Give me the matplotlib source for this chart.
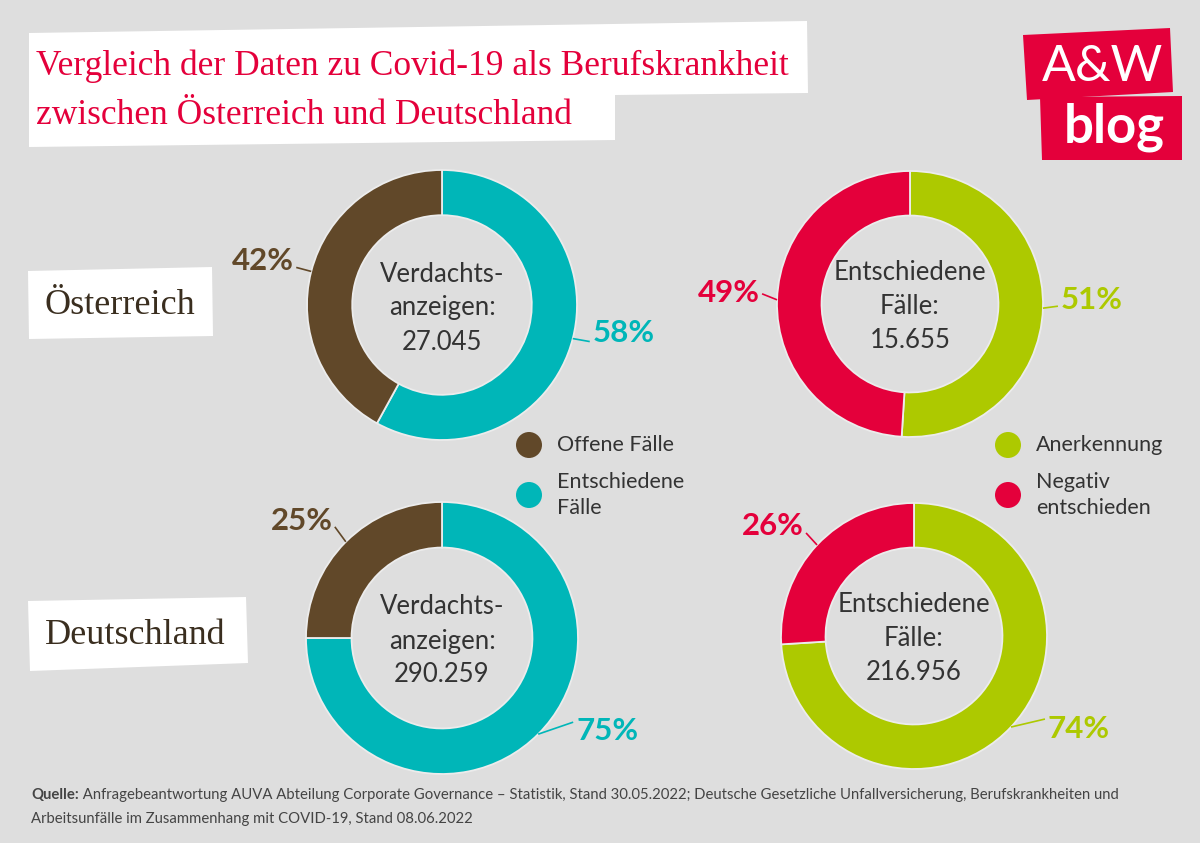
import numpy as np
import matplotlib
matplotlib.use("Agg")
import matplotlib.pyplot as plt
from matplotlib.patches import Polygon, Circle

# ---------------- data ----------------
countries = ["Österreich", "Deutschland"]
verdacht_totals = ["27.045", "290.259"]
entschieden_totals = ["15.655", "216.956"]
offene_pct = [42, 25]          # Offene Fälle
entschiedene_pct = [58, 75]    # Entschiedene Fälle
anerkennung_pct = [51, 74]     # Anerkennung
negativ_pct = [49, 26]         # Negativ entschieden
legend_left = ["Offene Fälle", "Entschiedene\nFälle"]
legend_right = ["Anerkennung", "Negativ\nentschieden"]
title = "Vergleich der Daten zu Covid-19 als Berufskrankheit\nzwischen Österreich und Deutschland"
source_bold = "Quelle:"
source_rest1 = " Anfragebeantwortung AUVA Abteilung Corporate Governance – Statistik, Stand 30.05.2022; Deutsche Gesetzliche Unfallversicherung, Berufskrankheiten und"
source_line2 = "Arbeitsunfälle im Zusammenhang mit COVID-19, Stand 08.06.2022"

# ---------------- style ----------------
BG = "#dedede"
BROWN = "#614829"
TEAL = "#00b6b8"
GREEN = "#adc900"
RED = "#e4003b"
DARK = "#333333"
W, H = 1200, 843

fig = plt.figure(figsize=(12, 8.43), dpi=100)
fig.patch.set_facecolor(BG)
ax = fig.add_axes([0, 0, 1, 1])
ax.set_facecolor(BG)

def Y(py):
    return H - py

def poly(pts, color, z=1):
    ax.add_patch(Polygon([(x, Y(y)) for x, y in pts], closed=True,
                         facecolor=color, edgecolor="none", zorder=z))

# title box
poly([(29, 33), (807, 21), (808, 93), (615, 95), (615, 140), (29, 147)], "white")
ax.text(36, Y(66), title.split("\n")[0], family="Liberation Serif", fontsize=25.5,
        color=RED, va="center", ha="left", zorder=3)
ax.text(36, Y(116), title.split("\n")[1], family="Liberation Serif", fontsize=25.5,
        color=RED, va="center", ha="left", zorder=3)

# logo
poly([(1023, 35), (1170, 28), (1173, 92), (1027, 100)], RED)
poly([(1040, 97), (1182, 96), (1182, 160), (1042, 160)], RED)
ax.text(1102, Y(67), "A&W", family="Lato", fontsize=36, color="white",
        ha="center", va="center", zorder=3)
ax.text(1114, Y(127), "blog", family="Lato", fontsize=38, fontweight="bold",
        color="white", ha="center", va="center", zorder=3)

# country boxes
poly([(28, 271), (212, 267), (213, 336), (29, 339)], "white")
poly([(28, 601), (246, 597), (248, 663), (30, 671)], "white")
ax.text(45, Y(306), countries[0], family="Liberation Serif", fontsize=26,
        color="#3a2e1f", ha="left", va="center", zorder=3)
ax.text(45, Y(636), countries[1], family="Liberation Serif", fontsize=26,
        color="#3a2e1f", ha="left", va="center", zorder=3)

# ---------------- donuts ----------------
donuts = [
    dict(c=(442, 305), r=135, vals=[entschiedene_pct[0], offene_pct[0]],
         cols=[TEAL, BROWN], txt="Verdachts-\nanzeigen:\n" + verdacht_totals[0],
         lay=[((17, 3), -9), ((-15, -4), -6)]),
    dict(c=(910, 304), r=133, vals=[anerkennung_pct[0], negativ_pct[0]],
         cols=[GREEN, RED], txt="Entschiedene\nFälle:\n" + entschieden_totals[0],
         lay=[((15, -2), -6), ((-15, -6), -1)]),
    dict(c=(442, 638), r=136, vals=[entschiedene_pct[1], offene_pct[1]],
         cols=[TEAL, BROWN], txt="Verdachts-\nanzeigen:\n" + verdacht_totals[1],
         lay=[((35, -12), 9), ((-11, -15), -6)]),
    dict(c=(914, 636), r=133, vals=[anerkennung_pct[1], negativ_pct[1]],
         cols=[GREEN, RED], txt="Entschiedene\nFälle:\n" + entschieden_totals[1],
         lay=[((34, -8), 10), ((-11, -12), -7)]),
]

for d in donuts:
    cx, cy = d["c"]
    r = d["r"]
    ax.pie(d["vals"], colors=d["cols"], startangle=90, counterclock=False,
           radius=r, center=(cx, Y(cy)), frame=True,
           wedgeprops=dict(width=0.335 * r, edgecolor="#ececec", linewidth=1.3))
    ax.text(cx, Y(cy + 3), d["txt"], family="Lato", fontsize=18.5, color=DARK,
            ha="center", va="center", linespacing=1.45, zorder=4)
    total = sum(d["vals"])
    cum = 0
    for v, col, ((ox, oy), tdy) in zip(d["vals"], d["cols"], d["lay"]):
        mid_cw = (cum + v / 2) / total * 360.0
        cum += v
        ang = np.deg2rad(90 - mid_cw)
        sx, sy = cx + r * np.cos(ang), cy - r * np.sin(ang)
        ex, ey = sx + ox, sy + oy
        ax.plot([sx, ex], [Y(sy), Y(ey)], color=col, lw=1.2, zorder=4,
                solid_capstyle="butt")
        right = ox > 0
        ax.text(ex + (3 if right else -2), Y(ey + tdy), f"{v}%", family="Lato",
                fontweight="bold", fontsize=22.5, color=col,
                ha="left" if right else "right", va="center", zorder=4)

# ---------------- legends ----------------
for lx, labels, cols in [(529, legend_left, [BROWN, TEAL]),
                         (1008, legend_right, [GREEN, RED])]:
    for i, (lab, col) in enumerate(zip(labels, cols)):
        ly = 445 + 50 * i
        ax.add_patch(Circle((lx, Y(ly)), 13, facecolor=col, edgecolor="none", zorder=3))
        ax.text(lx + 28, Y(ly), lab, family="Lato", fontsize=15.5, color=DARK,
                ha="left", va="center", linespacing=1.35, zorder=3)

# ---------------- source ----------------
fig.canvas.draw()
rend = fig.canvas.get_renderer()
fs = 11.5
probe1 = ax.text(0, 0, source_bold, family="Lato", fontweight="bold", fontsize=fs)
probe2 = ax.text(0, 0, source_rest1, family="Lato", fontsize=fs)
wtot = probe1.get_window_extent(renderer=rend).width + probe2.get_window_extent(renderer=rend).width
probe1.remove()
probe2.remove()
fs = fs * 1090.0 / wtot
t1 = ax.text(31, Y(795), source_bold, family="Lato", fontweight="bold",
             fontsize=fs, color="#444444", ha="left", va="center")
bb = t1.get_window_extent(renderer=rend)
ax.text(31 + bb.width, Y(795), source_rest1, family="Lato", fontsize=fs,
        color="#444444", ha="left", va="center")
ax.text(31, Y(819), source_line2, family="Lato", fontsize=fs,
        color="#444444", ha="left", va="center")

ax.set_xlim(0, W)
ax.set_ylim(0, H)
ax.set_aspect("auto")
ax.axis("off")
fig.savefig("out.png", dpi=100, facecolor=BG)
